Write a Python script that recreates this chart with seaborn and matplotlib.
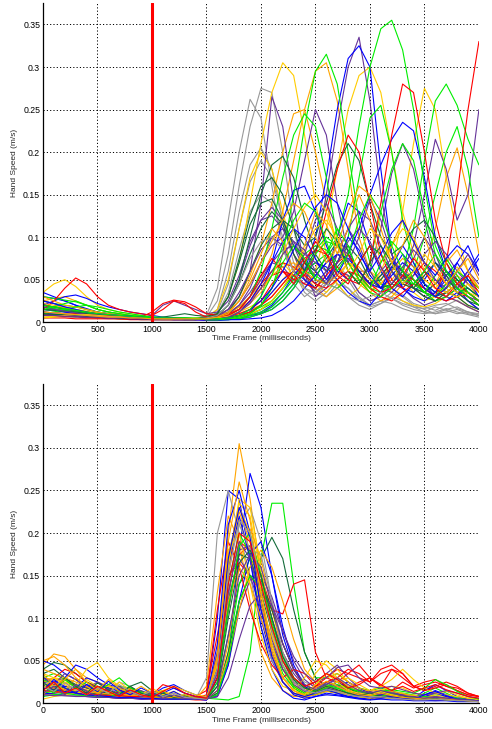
import matplotlib
matplotlib.use("Agg")
import matplotlib.pyplot as plt
import seaborn as sns
import pandas as pd

# sample times (ms) shared by every trial
time_ms = list(range(0, 4001, 100))
cue_time = 1000

# hand speed per trial, in mm/s
top_colors = ["gray", "gray", "gray", "gray", "gray",
              "gold", "gold", "gold", "gold", "orange", "orange", "orange",
              "purple", "purple", "purple", "purple", "purple", "purple",
              "blue", "blue", "blue", "blue", "blue",
              "lime", "lime", "lime", "lime", "lime", "lime",
              "dkgreen", "dkgreen", "dkgreen", "dkgreen",
              "red", "red", "red", "red",
              "orange", "gold", "purple", "lime", "blue",
              "blue", "purple", "orange", "lime", "red", "dkgreen",
              "gold", "gray", "blue", "purple", "lime", "orange"]
top_speed = [
    [20, 18, 15, 12, 10, 8, 7, 6, 5, 5, 4, 4, 4, 4, 4, 6, 25, 80, 160, 230, 275, 270, 200, 110, 55, 35, 50, 65, 55, 35, 25, 30, 40, 32, 22, 18, 14, 20, 26, 18, 12],
    [10, 12, 10, 9, 8, 7, 6, 5, 5, 4, 4, 3, 3, 3, 4, 8, 40, 120, 200, 262, 240, 160, 90, 45, 30, 40, 55, 45, 30, 20, 15, 22, 28, 20, 15, 12, 18, 14, 10, 12, 8],
    [5, 6, 8, 7, 6, 5, 5, 4, 4, 3, 3, 3, 3, 3, 3, 5, 15, 60, 130, 185, 205, 180, 120, 70, 40, 30, 45, 60, 50, 30, 20, 25, 35, 30, 20, 15, 10, 12, 15, 10, 8],
    [15, 14, 12, 10, 9, 8, 7, 6, 5, 5, 4, 4, 4, 4, 4, 5, 12, 45, 110, 165, 190, 170, 120, 80, 50, 35, 30, 45, 40, 25, 18, 22, 30, 25, 18, 12, 10, 15, 18, 12, 8],
    [8, 7, 6, 6, 5, 5, 4, 4, 4, 3, 3, 3, 3, 3, 3, 4, 10, 35, 85, 130, 150, 140, 100, 60, 35, 25, 35, 50, 40, 28, 20, 25, 22, 16, 12, 10, 12, 16, 12, 9, 6],
    [35, 45, 50, 42, 30, 20, 15, 12, 10, 8, 6, 5, 5, 5, 5, 6, 15, 50, 110, 170, 200, 180, 130, 80, 50, 40, 60, 90, 80, 50, 35, 45, 60, 50, 35, 25, 30, 40, 30, 20, 15],
    [12, 10, 9, 8, 7, 6, 5, 5, 4, 4, 4, 4, 4, 4, 4, 5, 10, 30, 70, 140, 210, 270, 305, 290, 220, 140, 80, 45, 30, 40, 60, 50, 35, 25, 20, 18, 22, 30, 25, 18, 12],
    [10, 9, 8, 8, 7, 6, 6, 5, 5, 4, 4, 4, 4, 4, 4, 4, 6, 10, 18, 30, 45, 60, 70, 55, 40, 60, 110, 180, 250, 290, 300, 270, 200, 130, 80, 50, 40, 55, 65, 45, 30],
    [8, 7, 7, 6, 6, 5, 5, 4, 4, 4, 3, 3, 3, 3, 3, 4, 5, 8, 12, 18, 25, 35, 50, 65, 60, 45, 35, 50, 70, 60, 40, 30, 60, 130, 210, 275, 250, 170, 100, 60, 40],
    [20, 18, 16, 14, 12, 10, 8, 7, 6, 5, 5, 5, 4, 4, 4, 5, 8, 15, 30, 55, 90, 140, 200, 245, 250, 200, 140, 90, 60, 45, 35, 50, 70, 60, 40, 30, 25, 35, 45, 30, 20],
    [25, 28, 30, 25, 20, 15, 12, 10, 8, 6, 5, 5, 5, 4, 4, 5, 6, 10, 18, 30, 50, 80, 130, 190, 250, 295, 305, 260, 180, 100, 60, 40, 50, 65, 50, 35, 30, 40, 55, 45, 30],
    [10, 8, 8, 7, 6, 5, 5, 4, 4, 4, 4, 4, 3, 3, 3, 4, 5, 6, 10, 15, 20, 30, 45, 60, 55, 40, 30, 40, 55, 50, 35, 25, 30, 45, 40, 60, 110, 170, 205, 150, 80],
    [18, 16, 14, 12, 10, 8, 7, 6, 5, 5, 4, 4, 4, 4, 4, 5, 8, 15, 30, 60, 140, 265, 230, 140, 60, 30, 40, 60, 55, 35, 25, 30, 45, 40, 28, 20, 25, 30, 25, 18, 12],
    [15, 14, 12, 10, 9, 8, 7, 6, 5, 5, 4, 4, 4, 4, 4, 5, 6, 10, 20, 35, 55, 70, 65, 50, 45, 80, 150, 230, 300, 335, 260, 150, 80, 50, 40, 35, 45, 55, 40, 30, 20],
    [10, 9, 8, 8, 7, 6, 6, 5, 5, 4, 4, 4, 4, 4, 4, 5, 7, 12, 25, 45, 70, 90, 100, 130, 190, 250, 220, 140, 80, 55, 45, 60, 75, 60, 40, 30, 35, 45, 35, 25, 15],
    [12, 10, 10, 9, 8, 7, 6, 5, 5, 5, 4, 4, 4, 4, 4, 5, 8, 20, 50, 90, 120, 135, 120, 90, 60, 45, 60, 80, 70, 50, 40, 55, 70, 60, 90, 150, 215, 180, 120, 150, 250],
    [20, 18, 15, 13, 11, 9, 8, 7, 6, 5, 5, 5, 4, 4, 4, 5, 6, 10, 20, 40, 70, 100, 110, 95, 70, 55, 70, 90, 80, 60, 60, 110, 175, 210, 180, 120, 70, 50, 40, 30, 25],
    [8, 7, 7, 6, 6, 5, 5, 4, 4, 4, 8, 20, 25, 20, 15, 10, 12, 25, 55, 95, 120, 125, 110, 80, 50, 35, 45, 80, 110, 90, 60, 40, 35, 50, 60, 45, 35, 30, 40, 50, 35],
    [35, 30, 25, 20, 15, 12, 10, 8, 7, 6, 5, 5, 5, 4, 4, 4, 4, 5, 6, 8, 10, 15, 25, 40, 60, 100, 170, 250, 310, 325, 300, 180, 80, 40, 30, 25, 35, 50, 40, 25, 15],
    [15, 14, 12, 10, 8, 7, 6, 5, 5, 4, 4, 4, 4, 4, 4, 3, 3, 4, 5, 8, 12, 20, 35, 55, 70, 60, 45, 55, 80, 110, 150, 185, 215, 235, 225, 170, 100, 60, 45, 60, 80],
    [30, 28, 25, 20, 16, 12, 10, 8, 7, 6, 5, 5, 4, 4, 4, 3, 3, 4, 6, 12, 30, 70, 120, 155, 160, 130, 90, 60, 50, 70, 90, 80, 60, 40, 35, 50, 70, 60, 40, 30, 20],
    [10, 9, 8, 8, 7, 6, 5, 5, 4, 4, 3, 3, 3, 3, 3, 2, 2, 3, 5, 10, 20, 35, 50, 60, 50, 40, 55, 100, 140, 130, 90, 60, 40, 30, 45, 60, 50, 35, 30, 55, 75],
    [20, 25, 30, 32, 28, 22, 18, 15, 12, 10, 8, 6, 5, 5, 4, 3, 3, 3, 4, 6, 10, 18, 30, 45, 60, 70, 65, 50, 35, 25, 20, 35, 60, 80, 65, 45, 30, 25, 35, 40, 30],
    [25, 22, 20, 18, 15, 12, 10, 8, 7, 6, 5, 5, 5, 4, 4, 4, 5, 6, 8, 12, 20, 40, 80, 150, 230, 295, 315, 280, 200, 120, 70, 45, 40, 55, 50, 35, 25, 30, 40, 30, 20],
    [15, 14, 13, 12, 10, 8, 7, 6, 5, 5, 4, 4, 4, 4, 4, 3, 3, 4, 5, 8, 12, 18, 30, 45, 60, 70, 80, 100, 150, 230, 300, 345, 355, 320, 250, 160, 90, 60, 45, 35, 25],
    [20, 18, 16, 14, 12, 10, 9, 8, 7, 6, 5, 5, 5, 4, 4, 4, 4, 5, 7, 10, 15, 22, 35, 50, 70, 85, 100, 90, 70, 50, 40, 35, 45, 60, 110, 190, 260, 280, 255, 215, 185],
    [10, 9, 9, 8, 7, 6, 6, 5, 5, 4, 4, 4, 4, 4, 4, 4, 5, 6, 8, 12, 18, 25, 40, 55, 60, 55, 45, 40, 50, 70, 90, 80, 60, 45, 60, 100, 150, 200, 230, 180, 100],
    [30, 28, 26, 24, 20, 15, 12, 10, 8, 7, 6, 6, 5, 5, 5, 5, 6, 8, 15, 30, 60, 110, 170, 220, 245, 230, 170, 100, 60, 45, 70, 130, 180, 210, 190, 130, 80, 50, 40, 35, 25],
    [18, 16, 14, 12, 11, 10, 9, 8, 7, 6, 5, 5, 5, 4, 4, 4, 4, 5, 6, 9, 15, 25, 40, 60, 80, 90, 85, 70, 100, 170, 240, 255, 200, 120, 70, 45, 35, 40, 50, 40, 30],
    [20, 18, 16, 14, 12, 10, 8, 7, 6, 5, 5, 5, 4, 4, 4, 5, 8, 20, 50, 100, 150, 185, 195, 170, 120, 80, 60, 70, 90, 75, 50, 40, 45, 60, 50, 35, 30, 35, 45, 35, 25],
    [12, 11, 10, 9, 8, 7, 6, 5, 5, 4, 4, 6, 8, 10, 8, 7, 10, 30, 75, 125, 160, 170, 150, 110, 70, 50, 45, 65, 80, 60, 45, 55, 70, 60, 40, 30, 25, 35, 30, 20, 15],
    [8, 8, 7, 7, 6, 6, 5, 5, 4, 4, 4, 4, 4, 3, 3, 4, 6, 12, 30, 60, 90, 110, 120, 110, 90, 100, 140, 185, 210, 190, 140, 100, 80, 90, 110, 120, 100, 70, 50, 40, 30],
    [15, 14, 13, 12, 10, 8, 7, 6, 5, 5, 4, 4, 4, 4, 4, 5, 10, 30, 70, 115, 140, 145, 120, 90, 70, 60, 75, 95, 85, 60, 45, 50, 65, 55, 40, 35, 45, 60, 50, 35, 25],
    [15, 25, 40, 52, 45, 30, 20, 15, 12, 10, 8, 15, 25, 22, 12, 6, 5, 6, 8, 12, 20, 30, 45, 60, 75, 85, 80, 65, 50, 45, 70, 140, 220, 280, 270, 200, 120, 70, 45, 35, 25],
    [10, 9, 9, 8, 8, 7, 7, 6, 6, 5, 5, 5, 5, 4, 4, 5, 6, 8, 10, 15, 25, 45, 60, 55, 45, 40, 55, 70, 80, 60, 45, 35, 40, 55, 50, 40, 30, 70, 150, 250, 330],
    [12, 11, 10, 10, 9, 8, 8, 7, 6, 6, 12, 22, 26, 24, 18, 10, 8, 10, 15, 25, 40, 55, 60, 50, 55, 80, 130, 180, 220, 200, 140, 80, 50, 40, 55, 70, 60, 45, 35, 30, 20],
    [5, 5, 5, 4, 4, 4, 4, 4, 3, 3, 3, 3, 3, 3, 3, 3, 4, 6, 12, 25, 45, 60, 70, 65, 55, 45, 40, 50, 60, 55, 40, 30, 25, 35, 45, 40, 30, 25, 30, 35, 25],
    [30, 25, 20, 18, 15, 12, 10, 9, 8, 7, 6, 5, 5, 4, 4, 4, 5, 8, 15, 25, 40, 55, 65, 70, 60, 50, 45, 55, 70, 65, 50, 45, 60, 75, 65, 50, 40, 35, 45, 55, 40],
    [5, 6, 7, 8, 8, 7, 6, 6, 5, 5, 4, 4, 4, 4, 4, 3, 3, 4, 6, 10, 15, 25, 40, 60, 85, 110, 120, 100, 70, 50, 40, 60, 90, 110, 100, 70, 45, 35, 30, 35, 30],
    [25, 22, 18, 15, 12, 10, 9, 8, 7, 6, 5, 5, 5, 4, 4, 4, 5, 8, 15, 30, 50, 70, 85, 90, 80, 70, 60, 80, 110, 130, 120, 90, 60, 45, 55, 80, 95, 80, 60, 45, 35],
    [10, 12, 15, 18, 20, 18, 15, 12, 10, 8, 6, 5, 5, 4, 4, 3, 3, 3, 4, 6, 10, 15, 25, 40, 60, 80, 95, 90, 70, 50, 35, 30, 40, 50, 45, 35, 30, 45, 60, 50, 40],
    [8, 8, 7, 7, 6, 6, 5, 5, 5, 4, 4, 4, 4, 4, 3, 3, 3, 3, 3, 4, 5, 8, 15, 25, 40, 55, 70, 80, 75, 60, 45, 40, 55, 70, 60, 40, 30, 40, 70, 90, 60],
    [12, 10, 9, 8, 7, 6, 5, 5, 4, 4, 4, 4, 3, 3, 3, 3, 4, 6, 12, 25, 45, 70, 95, 110, 100, 75, 50, 70, 100, 85, 55, 40, 65, 90, 70, 45, 35, 55, 70, 50, 30],
    [18, 15, 13, 11, 9, 8, 7, 6, 5, 5, 4, 4, 4, 4, 4, 4, 6, 15, 35, 60, 85, 100, 90, 60, 80, 120, 140, 110, 70, 100, 145, 120, 80, 50, 75, 100, 80, 50, 40, 60, 45],
    [22, 20, 17, 15, 13, 11, 9, 8, 7, 6, 5, 5, 5, 4, 4, 4, 5, 10, 25, 50, 80, 110, 95, 60, 90, 130, 115, 80, 110, 150, 120, 70, 90, 120, 95, 60, 45, 70, 85, 60, 40],
    [15, 18, 22, 25, 20, 15, 12, 10, 8, 7, 6, 5, 5, 4, 4, 3, 3, 4, 6, 10, 20, 40, 70, 90, 75, 50, 80, 110, 90, 55, 40, 70, 95, 80, 50, 35, 55, 75, 55, 35, 25],
    [8, 8, 7, 7, 6, 6, 5, 5, 5, 4, 4, 4, 4, 4, 4, 4, 5, 8, 15, 30, 55, 75, 60, 45, 70, 95, 80, 55, 45, 70, 90, 65, 40, 55, 75, 60, 40, 30, 45, 55, 35],
    [10, 9, 9, 8, 7, 6, 6, 5, 5, 4, 4, 4, 4, 4, 4, 5, 8, 20, 45, 80, 110, 130, 115, 80, 60, 85, 110, 95, 60, 45, 70, 90, 70, 45, 40, 55, 70, 55, 35, 25, 20],
    [6, 7, 8, 9, 9, 8, 7, 6, 6, 5, 5, 4, 4, 4, 4, 4, 5, 7, 12, 22, 35, 55, 80, 110, 135, 150, 130, 90, 60, 80, 110, 100, 70, 45, 60, 80, 65, 45, 35, 45, 35],
    [12, 11, 10, 9, 8, 7, 6, 6, 5, 5, 4, 4, 4, 4, 4, 5, 8, 20, 45, 75, 95, 100, 85, 60, 40, 35, 45, 40, 30, 25, 30, 35, 28, 22, 18, 16, 20, 22, 16, 12, 10],
    [25, 22, 18, 15, 12, 10, 9, 8, 7, 6, 5, 5, 5, 4, 4, 4, 4, 5, 8, 15, 25, 40, 60, 85, 110, 135, 150, 140, 110, 80, 60, 80, 105, 120, 95, 70, 55, 75, 90, 80, 60],
    [8, 8, 7, 7, 6, 6, 5, 5, 5, 4, 4, 4, 4, 4, 4, 3, 4, 6, 12, 22, 40, 60, 80, 95, 85, 60, 45, 70, 95, 110, 95, 65, 45, 65, 85, 70, 50, 40, 60, 80, 55],
    [20, 18, 16, 14, 12, 10, 9, 8, 7, 6, 5, 5, 5, 5, 4, 4, 4, 5, 8, 15, 30, 55, 90, 120, 140, 130, 95, 60, 80, 120, 150, 130, 90, 60, 45, 60, 80, 60, 40, 30, 20],
    [12, 11, 10, 9, 8, 7, 6, 6, 5, 5, 4, 4, 4, 4, 4, 4, 6, 12, 25, 45, 70, 95, 120, 140, 130, 100, 70, 90, 130, 160, 150, 110, 70, 90, 120, 100, 65, 45, 60, 75, 50],
]

bottom_colors = ["orange", "blue", "blue", "gray", "gray", "lime", "dkgreen",
                 "red", "red", "red", "gold", "orange", "orange", "orange",
                 "gold", "lime", "lime", "purple", "purple", "purple",
                 "dkgreen", "dkgreen", "blue", "blue", "gray", "gold",
                 "orange", "red", "gold", "lime", "purple", "orange", "blue",
                 "purple", "orange", "lime", "gold", "dkgreen", "blue",
                 "orange", "purple", "gray", "red"]
bottom_speed = [
    [45, 58, 55, 40, 30, 25, 20, 15, 12, 10, 8, 8, 7, 6, 5, 5, 60, 200, 305, 240, 150, 80, 40, 20, 12, 20, 35, 30, 18, 12, 10, 15, 12, 8, 6, 8, 6, 5, 4, 4, 3],
    [50, 45, 35, 28, 22, 18, 14, 12, 10, 8, 10, 18, 22, 15, 10, 6, 8, 50, 180, 270, 230, 150, 80, 40, 20, 12, 18, 25, 15, 10, 8, 12, 10, 8, 6, 10, 15, 10, 6, 5, 4],
    [20, 25, 30, 45, 40, 30, 22, 18, 14, 12, 10, 9, 8, 8, 7, 8, 100, 250, 240, 170, 100, 50, 25, 12, 8, 10, 15, 12, 8, 6, 5, 6, 8, 6, 5, 4, 5, 6, 5, 4, 3],
    [15, 14, 12, 12, 11, 10, 9, 8, 7, 6, 6, 5, 5, 5, 5, 30, 200, 250, 200, 150, 90, 50, 30, 20, 15, 12, 10, 15, 12, 8, 6, 5, 6, 5, 4, 4, 3, 4, 3, 3, 2],
    [10, 10, 9, 9, 8, 8, 15, 25, 20, 12, 10, 8, 7, 6, 6, 6, 30, 120, 210, 230, 190, 120, 70, 40, 25, 20, 25, 30, 20, 14, 10, 12, 15, 10, 8, 6, 5, 6, 5, 4, 3],
    [30, 35, 28, 20, 15, 12, 10, 15, 18, 14, 10, 9, 8, 7, 6, 6, 5, 4, 8, 60, 170, 235, 235, 140, 60, 30, 30, 35, 25, 18, 15, 18, 14, 12, 10, 8, 10, 8, 6, 5, 4],
    [40, 48, 45, 35, 25, 20, 18, 15, 12, 10, 8, 7, 6, 6, 5, 5, 20, 80, 140, 160, 170, 195, 170, 110, 60, 30, 20, 25, 18, 12, 10, 8, 10, 8, 6, 5, 4, 5, 4, 3, 3],
    [25, 30, 40, 35, 25, 18, 15, 12, 10, 8, 10, 22, 18, 12, 8, 15, 80, 150, 165, 150, 130, 110, 105, 140, 145, 60, 30, 40, 35, 30, 25, 35, 40, 30, 20, 25, 28, 20, 15, 10, 8],
    [10, 12, 14, 12, 10, 9, 8, 7, 6, 6, 5, 5, 5, 5, 5, 5, 40, 130, 190, 180, 140, 90, 50, 25, 15, 20, 30, 25, 35, 45, 30, 20, 40, 35, 20, 15, 20, 25, 20, 12, 8],
    [20, 18, 15, 12, 10, 8, 7, 6, 6, 5, 5, 5, 5, 5, 4, 4, 30, 110, 175, 185, 150, 110, 70, 40, 20, 12, 15, 20, 18, 25, 30, 20, 15, 25, 18, 22, 25, 20, 18, 12, 8],
    [25, 30, 28, 22, 40, 48, 30, 20, 15, 12, 10, 9, 8, 7, 6, 6, 60, 170, 235, 220, 150, 80, 40, 18, 10, 35, 50, 40, 25, 15, 12, 10, 14, 12, 8, 8, 10, 8, 6, 5, 4],
    [50, 55, 45, 30, 20, 15, 12, 10, 8, 7, 6, 6, 5, 5, 5, 5, 50, 150, 230, 200, 120, 60, 25, 10, 6, 12, 18, 15, 10, 8, 6, 8, 6, 5, 4, 5, 4, 4, 3, 3, 2],
    [30, 28, 24, 20, 16, 13, 11, 9, 8, 7, 6, 6, 5, 5, 5, 20, 130, 220, 190, 120, 60, 30, 15, 8, 8, 15, 20, 14, 10, 8, 6, 7, 9, 7, 5, 4, 5, 4, 3, 3, 2],
    [18, 16, 14, 14, 12, 10, 9, 8, 7, 7, 6, 6, 5, 5, 5, 5, 15, 70, 160, 205, 170, 110, 60, 30, 15, 12, 18, 22, 16, 12, 10, 12, 10, 8, 6, 5, 6, 5, 4, 3, 3],
    [35, 30, 25, 22, 18, 15, 12, 10, 9, 8, 7, 7, 6, 6, 5, 5, 45, 160, 215, 180, 110, 55, 25, 12, 10, 18, 25, 20, 14, 10, 15, 20, 14, 10, 8, 6, 6, 5, 4, 4, 3],
    [28, 22, 18, 14, 12, 10, 15, 20, 18, 14, 10, 9, 8, 7, 6, 6, 40, 140, 200, 175, 120, 70, 35, 18, 10, 12, 15, 12, 10, 8, 7, 9, 8, 6, 5, 12, 18, 12, 6, 5, 4],
    [12, 14, 16, 14, 12, 10, 9, 8, 7, 6, 6, 5, 5, 5, 5, 5, 12, 60, 140, 170, 150, 100, 55, 28, 14, 10, 14, 18, 14, 10, 8, 10, 12, 9, 7, 6, 5, 6, 5, 4, 3],
    [20, 18, 16, 14, 12, 10, 9, 8, 7, 6, 6, 5, 5, 5, 5, 5, 25, 110, 180, 185, 150, 100, 60, 35, 20, 25, 35, 45, 30, 18, 12, 10, 12, 10, 8, 7, 8, 6, 5, 4, 3],
    [15, 14, 12, 11, 10, 9, 8, 7, 7, 6, 6, 5, 5, 5, 5, 5, 10, 45, 110, 145, 150, 125, 85, 50, 28, 18, 22, 28, 20, 14, 10, 12, 14, 10, 8, 6, 7, 6, 5, 4, 3],
    [25, 22, 20, 18, 15, 12, 10, 9, 8, 7, 7, 6, 6, 5, 5, 8, 60, 150, 170, 150, 110, 70, 40, 25, 15, 12, 18, 15, 12, 10, 8, 10, 8, 6, 5, 6, 5, 5, 4, 3, 3],
    [22, 20, 18, 15, 13, 11, 10, 9, 8, 7, 6, 6, 5, 5, 5, 5, 30, 120, 175, 170, 130, 85, 50, 28, 15, 12, 16, 20, 15, 10, 8, 10, 8, 7, 6, 5, 6, 5, 4, 3, 3],
    [35, 40, 30, 22, 18, 14, 12, 10, 20, 25, 15, 10, 8, 7, 6, 5, 12, 60, 120, 150, 145, 110, 70, 40, 22, 15, 20, 25, 18, 12, 9, 11, 9, 7, 6, 5, 5, 4, 4, 3, 3],
    [30, 25, 20, 18, 30, 25, 18, 14, 12, 10, 8, 7, 6, 6, 5, 4, 30, 160, 220, 170, 90, 40, 15, 6, 4, 8, 12, 10, 8, 6, 5, 10, 14, 10, 6, 8, 12, 8, 5, 4, 3],
    [12, 11, 10, 9, 8, 7, 7, 6, 6, 5, 5, 12, 18, 12, 8, 6, 8, 45, 120, 175, 190, 150, 90, 45, 20, 12, 15, 20, 25, 18, 12, 10, 8, 7, 6, 15, 22, 15, 8, 5, 4],
    [10, 10, 9, 9, 8, 8, 7, 7, 6, 6, 5, 5, 5, 5, 5, 5, 50, 170, 210, 180, 175, 120, 60, 30, 15, 12, 15, 20, 15, 10, 8, 8, 7, 6, 5, 5, 4, 4, 3, 3, 2],
    [15, 14, 13, 12, 11, 10, 9, 8, 7, 7, 6, 6, 6, 5, 5, 5, 35, 160, 240, 230, 160, 90, 45, 22, 12, 15, 20, 25, 30, 22, 15, 20, 28, 40, 28, 18, 12, 10, 8, 6, 5],
    [20, 18, 17, 15, 14, 12, 11, 10, 9, 8, 7, 7, 6, 6, 6, 5, 15, 55, 110, 160, 180, 160, 120, 75, 40, 25, 30, 35, 25, 18, 14, 16, 14, 11, 9, 7, 8, 6, 5, 4, 3],
    [15, 14, 13, 12, 11, 10, 9, 9, 8, 8, 8, 7, 7, 6, 6, 10, 110, 190, 160, 110, 70, 45, 30, 40, 35, 20, 25, 30, 40, 35, 25, 40, 45, 35, 20, 15, 18, 22, 15, 10, 8],
    [5, 8, 10, 12, 14, 18, 20, 16, 12, 10, 12, 15, 20, 15, 10, 8, 45, 180, 200, 140, 80, 40, 20, 15, 30, 50, 45, 30, 20, 15, 12, 15, 20, 18, 12, 10, 12, 14, 10, 6, 4],
    [8, 10, 12, 10, 9, 8, 7, 12, 15, 12, 8, 7, 6, 6, 5, 5, 10, 50, 120, 150, 135, 95, 55, 30, 18, 14, 18, 22, 18, 14, 12, 14, 16, 14, 12, 18, 28, 22, 14, 8, 5],
    [10, 9, 9, 8, 8, 7, 7, 6, 6, 6, 5, 5, 5, 5, 5, 5, 8, 30, 75, 115, 130, 115, 85, 55, 35, 25, 30, 42, 45, 30, 20, 18, 20, 16, 12, 10, 12, 15, 12, 8, 6],
    [40, 35, 30, 25, 20, 16, 13, 11, 10, 9, 8, 7, 7, 6, 6, 5, 40, 120, 160, 140, 100, 60, 30, 15, 8, 10, 14, 12, 10, 8, 6, 8, 7, 5, 4, 5, 4, 4, 3, 3, 2],
    [18, 16, 14, 12, 10, 9, 8, 7, 7, 6, 6, 5, 5, 5, 5, 6, 70, 210, 250, 200, 120, 60, 25, 10, 6, 8, 10, 9, 7, 5, 4, 5, 4, 4, 3, 3, 3, 3, 2, 2, 2],
    [30, 22, 35, 28, 18, 25, 15, 20, 12, 15, 10, 12, 8, 9, 6, 6, 35, 130, 190, 170, 120, 75, 40, 22, 14, 18, 24, 20, 15, 10, 14, 10, 8, 10, 7, 6, 8, 6, 5, 4, 3],
    [10, 25, 15, 30, 20, 12, 22, 14, 18, 10, 14, 8, 12, 7, 5, 5, 55, 175, 225, 190, 120, 60, 25, 12, 8, 14, 20, 16, 10, 8, 10, 7, 6, 8, 5, 5, 6, 4, 4, 3, 3],
    [20, 12, 28, 18, 25, 15, 22, 30, 18, 12, 10, 14, 8, 10, 6, 5, 25, 110, 185, 200, 150, 90, 45, 20, 12, 15, 22, 18, 12, 16, 10, 8, 12, 8, 6, 8, 6, 5, 6, 4, 3],
    [18, 30, 22, 15, 28, 20, 12, 25, 15, 10, 18, 10, 14, 8, 6, 6, 45, 165, 230, 200, 130, 70, 30, 15, 10, 22, 35, 25, 15, 12, 10, 14, 10, 8, 10, 6, 5, 6, 4, 4, 3],
    [25, 15, 30, 20, 12, 24, 16, 10, 20, 12, 8, 12, 7, 9, 6, 5, 20, 100, 165, 180, 150, 100, 55, 30, 18, 14, 20, 16, 12, 9, 12, 8, 7, 9, 6, 5, 6, 4, 4, 3, 3],
    [15, 28, 18, 12, 22, 14, 26, 16, 10, 18, 12, 8, 14, 7, 5, 4, 40, 170, 230, 195, 110, 55, 25, 12, 8, 12, 16, 12, 8, 10, 7, 6, 8, 6, 5, 10, 14, 9, 5, 4, 3],
    [35, 20, 28, 40, 25, 15, 28, 18, 12, 20, 12, 15, 8, 10, 6, 5, 50, 190, 260, 215, 130, 65, 30, 15, 10, 18, 26, 20, 14, 10, 9, 12, 9, 7, 6, 5, 7, 5, 4, 3, 2],
    [12, 20, 10, 22, 14, 8, 18, 10, 15, 8, 12, 6, 10, 6, 5, 5, 15, 80, 150, 175, 160, 115, 70, 40, 22, 16, 22, 30, 22, 15, 12, 15, 12, 9, 8, 6, 7, 6, 5, 4, 3],
    [20, 14, 24, 16, 10, 18, 12, 22, 14, 9, 15, 8, 12, 7, 6, 5, 40, 150, 215, 200, 140, 85, 45, 25, 15, 12, 16, 14, 10, 8, 7, 8, 6, 5, 4, 4, 5, 4, 3, 3, 2],
    [15, 25, 12, 18, 10, 20, 14, 8, 16, 10, 7, 14, 20, 12, 8, 6, 30, 140, 200, 190, 140, 90, 50, 30, 20, 25, 35, 28, 18, 22, 30, 22, 15, 20, 14, 18, 22, 16, 12, 8, 6],
]

palette = {
    "red": "#ff0000", "blue": "#0000ff", "lime": "#00ee00",
    "gold": "#ffcc00", "orange": "#ffa500", "purple": "#663399",
    "dkgreen": "#146b3a", "gray": "#999999",
}

x_ticks = [0, 500, 1000, 1500, 2000, 2500, 3000, 3500, 4000]
y_ticks = [0, 0.05, 0.1, 0.15, 0.2, 0.25, 0.3, 0.35]
y_tick_labels = ["0", "0.05", "0.1", "0.15", "0.2", "0.25", "0.3", "0.35"]


def make_frame(speeds):
    rows = []
    for i, trial in enumerate(speeds):
        for t, v in zip(time_ms, trial):
            rows.append({"trial": f"t{i:02d}", "time": t, "speed": v / 1000.0})
    return pd.DataFrame(rows)


def draw_panel(ax, speeds, colors):
    for s in speeds:
        if len(s) != len(time_ms):
            raise ValueError(f"bad length {len(s)}")
    df = make_frame(speeds)
    sns.lineplot(data=df, x="time", y="speed", hue="trial",
                 palette=[palette[c] for c in colors],
                 estimator=None, sort=False, legend=False,
                 linewidth=0.8, ax=ax)
    ax.axvline(cue_time, color="#ff0000", linewidth=2.2)

    ax.set_xlim(0, 4000)
    ax.set_ylim(0, 0.375)
    ax.set_xticks(x_ticks)
    ax.set_yticks(y_ticks)
    ax.set_yticklabels(y_tick_labels)
    ax.grid(True, color="black", linestyle=(0, (1.2, 2.2)), linewidth=0.7)
    ax.set_axisbelow(True)
    ax.tick_params(direction="in", length=3, labelsize=6.3, pad=2,
                   colors="black", width=0.6)
    for side in ("top", "right"):
        ax.spines[side].set_visible(False)
    for side in ("left", "bottom"):
        ax.spines[side].set_color("black")
        ax.spines[side].set_linewidth(0.9)
    ax.set_xlabel("Time Frame (milliseconds)", fontsize=6, labelpad=1)
    ax.set_ylabel("Hand Speed (m/s)", fontsize=6, labelpad=4)


sns.set_style("white")
plt.rcParams["font.family"] = ["Liberation Sans", "DejaVu Sans"]

fig = plt.figure(figsize=(4.92, 7.29), dpi=100)
ax_top = fig.add_axes([0.0874, 0.558, 0.886, 0.4376])
ax_bottom = fig.add_axes([0.0874, 0.0352, 0.886, 0.438])

draw_panel(ax_top, top_speed, top_colors)
draw_panel(ax_bottom, bottom_speed, bottom_colors)

fig.savefig("out.png", dpi=100)
